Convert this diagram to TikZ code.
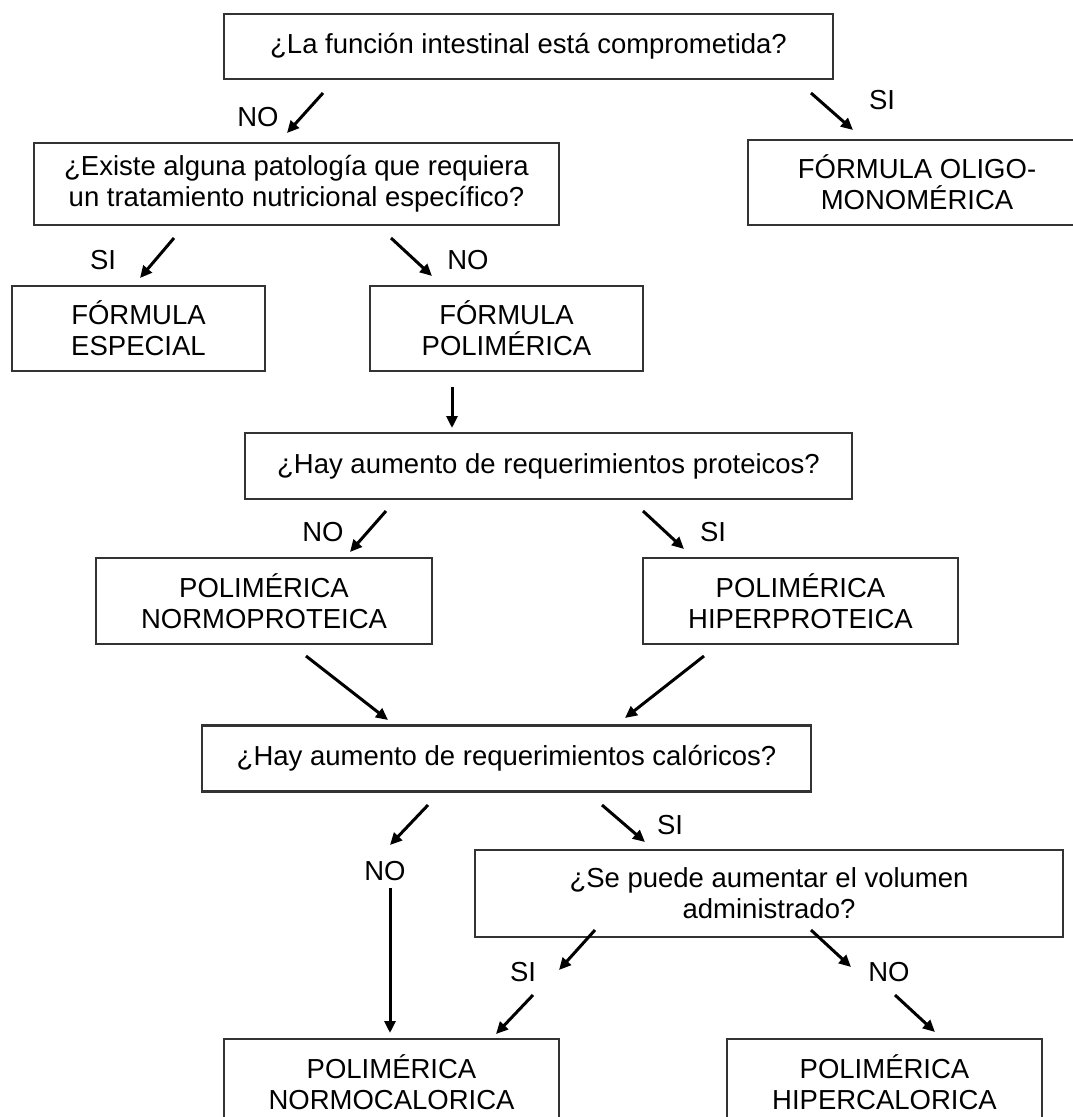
\documentclass[tikz,border=0pt]{standalone}
\usepackage{fontspec}
\setmainfont{Liberation Sans}
\usetikzlibrary{arrows.meta}

\begin{document}
\begin{tikzpicture}[x=1pt,y=-1pt,
  txt/.style={font=\fontsize{27.5}{31}\selectfont,inner sep=0pt,align=center},
  box/.style={txt,draw=black!80,line width=2.4pt},
  arr/.style={line width=3pt,-{Triangle[length=12pt,width=11pt]}}]
\path[use as bounding box] (0,0) rectangle (1072,1117);
\node[box,minimum width=609,minimum height=65] (intest) at (528.5,46.5) {¿La función intestinal está comprometida?};
\node[box,minimum width=525,minimum height=82] (patol) at (296.5,184) {¿Existe alguna patología que requiera\\un tratamiento nutricional específico?};
\node[box,minimum width=338,minimum height=85] (oligo) at (917,182.5) {FÓRMULA OLIGO-\\MONOMÉRICA};
\node[box,minimum width=253,minimum height=85] (especial) at (138.5,328.5) {FÓRMULA\\ESPECIAL};
\node[box,minimum width=273,minimum height=85] (polim) at (506.5,328.5) {FÓRMULA\\POLIMÉRICA};
\node[box,minimum width=607,minimum height=66] (prot) at (548.5,466) {¿Hay aumento de requerimientos proteicos?};
\node[box,minimum width=336,minimum height=86] (normoprot) at (264,601) {POLIMÉRICA\\NORMOPROTEICA};
\node[box,minimum width=315,minimum height=86] (hiperprot) at (800.5,601) {POLIMÉRICA\\HIPERPROTEICA};
\node[box,minimum width=609,minimum height=66] (calor) at (506.5,758.5) {¿Hay aumento de requerimientos calóricos?};
\node[box,minimum width=588,minimum height=87] (volum) at (769,893.5) {¿Se puede aumentar el volumen\\administrado?};
\node[box,minimum width=335,minimum height=86] (normocal) at (391.5,1082) {POLIMÉRICA\\NORMOCALORICA};
\node[box,minimum width=315,minimum height=86] (hipercal) at (884.5,1082) {POLIMÉRICA\\HIPERCALORICA};
\foreach \n/\x/\y/\t in {l1/258/117/NO,l2/882/100/SI,l3/103/260/SI,l4/468/260/NO,l5/323/532/NO,
  l6/713/532/SI,l7/385/871/NO,l8/670/825/SI,l9/523/972/SI,l10/889/972/NO}
  \node[txt] (\n) at (\x,\y) {\t};
\foreach \i/\xa/\ya/\xb/\yb in {1/323/93/287/133,2/811/93/853/130,3/174/238/140/278,4/391/238/432/276,
  5/452/387/452/428,6/386/511/350/552,7/643/511/684/549,8/306/656/388/720,9/704/656/625/718,
  10/428/805/390/845,11/602/805/645/842,12/390/888/390/1033,13/595/930/559/970,14/811/930/851/967,
  15/533/995/496/1034,16/895/995/935/1032}{
  \coordinate (s\i) at (\xa,\ya);
  \coordinate (e\i) at (\xb,\yb);
  \draw[arr] (s\i) -- (e\i);
}
\end{tikzpicture}
\end{document}
